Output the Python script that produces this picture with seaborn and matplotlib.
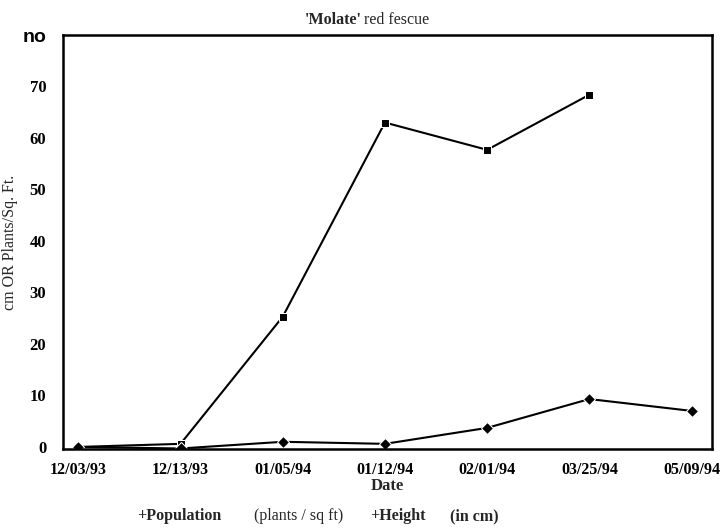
import matplotlib
matplotlib.use("Agg")
import matplotlib.pyplot as plt
import seaborn as sns
import numpy as np
import pandas as pd

dates = ["12/03/93", "12/13/93", "01/05/94", "01/12/94", "02/01/94", "03/25/94", "05/09/94"]
population = [0.0, 0.6, 25.3, 63.0, 57.7, 68.4, np.nan]
height = [0.0, -0.3, 1.0, 0.6, 3.7, 9.3, 7.0]
yticks = [0, 10, 20, 30, 40, 50, 60, 70, 80]
ytick_labels = ["0", "10", "20", "30", "40", "50", "60", "70", "no"]

sns.set_theme(style="white")
plt.rcParams["font.family"] = ["Liberation Serif", "DejaVu Serif"]

pos = list(range(len(dates)))
df = pd.DataFrame({
    "pos": pos * 2,
    "value": population + height,
    "series": ["Population"] * len(dates) + ["Height"] * len(dates),
})

fig = plt.figure(figsize=(7.23, 5.31), dpi=100)
ax = fig.add_axes([63 / 723, 1 - 449 / 531, (712 - 63) / 723, (449 - 35) / 531])

sns.lineplot(data=df, x="pos", y="value", style="series",
             markers={"Population": "s", "Height": "D"}, dashes=False,
             color="black", linewidth=1.5, markersize=6, ax=ax,
             legend=False, sort=False)

ax.set_xlim(-0.15, 6.2)
ax.set_ylim(-0.4, 79.2)
ax.set_xticks(pos)
ax.set_xticklabels(dates, fontsize=11.5, fontweight="bold")
ax.set_yticks(yticks)
ax.set_yticklabels(ytick_labels, fontsize=12, fontweight="bold")
lbl = ax.get_yticklabels()[-1]
lbl.set_family(["Liberation Sans", "DejaVu Sans"])
lbl.set_fontsize(14)
ax.tick_params(axis="both", direction="in", length=4, width=0.8, colors="black")
ax.tick_params(axis="x", pad=9)
ax.tick_params(axis="y", pad=12)
for s in ax.spines.values():
    s.set_color("black")
    s.set_linewidth(1.8)
ax.set_xlabel("Date", fontsize=12, fontweight="bold", labelpad=0)
ax.set_ylabel("cm OR Plants/Sq. Ft.", fontsize=11.5)
ax.yaxis.set_label_coords((18 - 63) / 649, 0.5)

# title
fig.text(0.5, 1 - 20 / 531, "'Molate'", fontsize=11.5, fontweight="bold",
         ha="right", va="center")
fig.text(0.5 + 3 / 723, 1 - 20 / 531, "red fescue", fontsize=11.5,
         ha="left", va="center")

# legend text
ly = 1 - 516 / 531
fig.text(137 / 723, ly, "+Population", fontsize=11.5, fontweight="bold", va="center")
fig.text(254 / 723, ly, "(plants / sq ft)", fontsize=11.5, va="center")
fig.text(370 / 723, ly, "+Height", fontsize=11.5, fontweight="bold", va="center")
fig.text(450 / 723, ly, "(in cm)", fontsize=11.5, fontweight="bold", va="center")

fig.savefig("out.png", dpi=100)
